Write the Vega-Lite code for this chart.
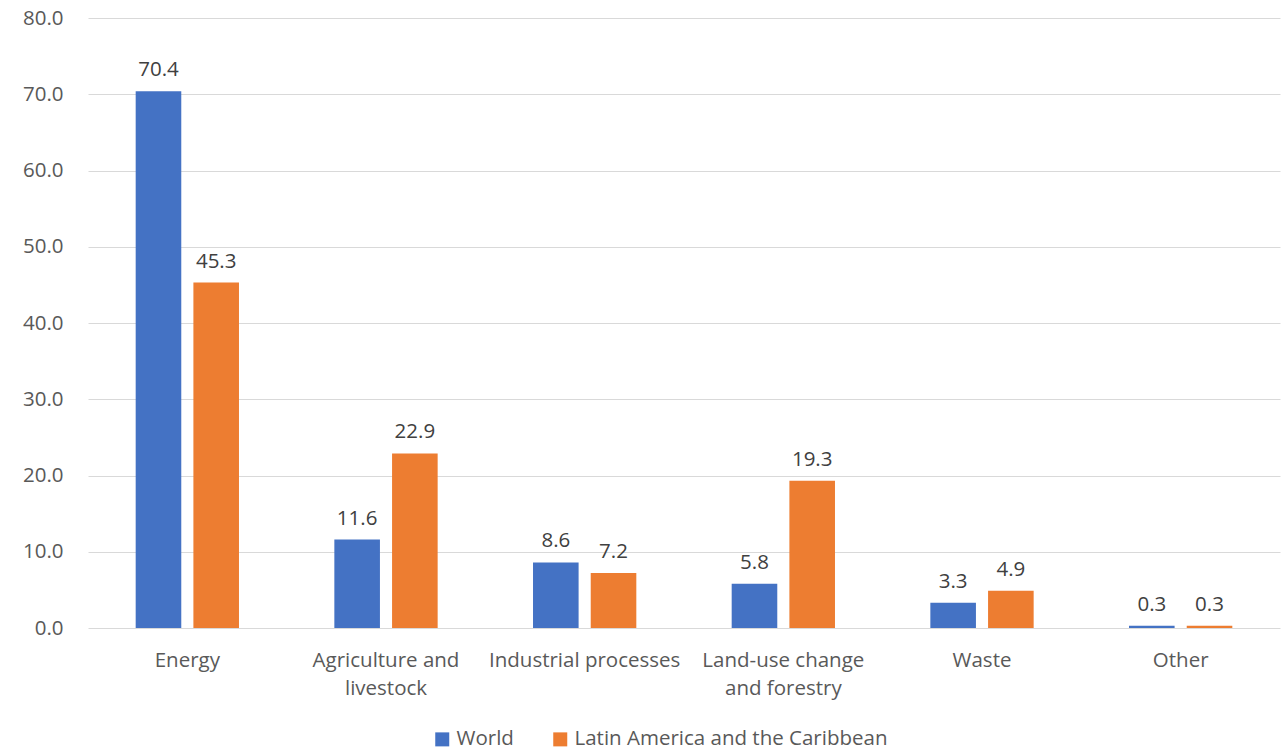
{
  "$schema": "https://vega.github.io/schema/vega-lite/v6.json",
  "width": 1192,
  "height": 610,
  "autosize": {"type": "none"},
  "padding": {"left": 88, "top": 18, "right": 6, "bottom": 124},
  "background": "white",
  "config": {
    "font": "Open Sans",
    "view": {"stroke": null},
    "axis": {"labelFont": "Open Sans", "labelFontSize": 20.5, "labelColor": "#595959"}
  },
  "data": {
    "values": [
      {"category": "Energy", "series": "World", "value": 70.4},
      {"category": "Energy", "series": "Latin America and the Caribbean", "value": 45.3},
      {"category": "Agriculture and livestock", "series": "World", "value": 11.6},
      {"category": "Agriculture and livestock", "series": "Latin America and the Caribbean", "value": 22.9},
      {"category": "Industrial processes", "series": "World", "value": 8.6},
      {"category": "Industrial processes", "series": "Latin America and the Caribbean", "value": 7.2},
      {"category": "Land-use change and forestry", "series": "World", "value": 5.8},
      {"category": "Land-use change and forestry", "series": "Latin America and the Caribbean", "value": 19.3},
      {"category": "Waste", "series": "World", "value": 3.3},
      {"category": "Waste", "series": "Latin America and the Caribbean", "value": 4.9},
      {"category": "Other", "series": "World", "value": 0.3},
      {"category": "Other", "series": "Latin America and the Caribbean", "value": 0.3}
    ]
  },
  "encoding": {
    "x": {
      "field": "category", "type": "nominal", "sort": null,
      "scale": {"paddingInner": 0.48, "paddingOuter": 0.24},
      "axis": {
        "title": null, "labelAngle": 0, "ticks": false, "domain": false, "labelPadding": 22, "labelLimit": 0,
        "labelExpr": "datum.label == 'Agriculture and livestock' ? ['Agriculture and', 'livestock'] : datum.label == 'Land-use change and forestry' ? ['Land-use change', 'and forestry'] : datum.label",
        "labelLineHeight": 28
      }
    },
    "xOffset": {
      "field": "series", "type": "nominal", "sort": ["World", "Latin America and the Caribbean"],
      "scale": {"paddingInner": 0.21, "paddingOuter": 0}
    },
    "y": {
      "field": "value", "type": "quantitative",
      "scale": {"domain": [0, 80]},
      "axis": {
        "title": null, "values": [0, 10, 20, 30, 40, 50, 60, 70, 80], "format": ".1f",
        "domain": false, "ticks": false, "gridColor": "#d9d9d9", "gridWidth": 1, "labelPadding": 25
      }
    }
  },
  "layer": [
    {
      "mark": {"type": "bar"},
      "encoding": {
        "color": {
          "field": "series", "type": "nominal", "sort": ["World", "Latin America and the Caribbean"],
          "scale": {"domain": ["World", "Latin America and the Caribbean"], "range": ["#4472C4", "#ED7D31"]},
          "legend": {
            "title": null, "orient": "none", "direction": "horizontal",
            "legendX": 344, "legendY": 711,
            "symbolType": "square", "symbolSize": 196, "symbolStrokeWidth": 0,
            "labelFontSize": 20.5, "labelFont": "Open Sans", "labelColor": "#595959", "labelLimit": 0,
            "columnPadding": 36, "labelOffset": 4
          }
        }
      }
    },
    {
      "mark": {"type": "text", "baseline": "bottom", "dy": -11, "fontSize": 20.5, "font": "Open Sans", "color": "#404040"},
      "encoding": {
        "text": {"field": "value", "type": "quantitative", "format": ".1f"}
      }
    }
  ]
}
